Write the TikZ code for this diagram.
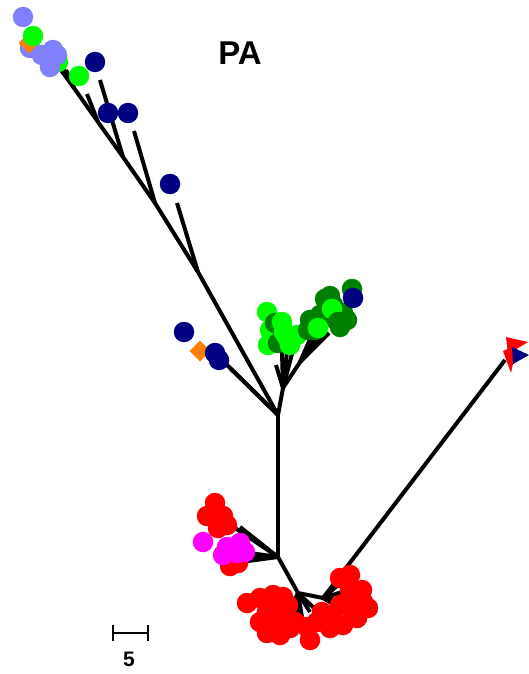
\documentclass[tikz,border=0pt]{standalone}
\usepackage{fontspec}
\usetikzlibrary{shapes.geometric}
\setmainfont{Liberation Sans}
\definecolor{lav}{HTML}{8080FF}
\definecolor{navyc}{HTML}{000080}
\definecolor{lgreen}{HTML}{00FF00}
\definecolor{dgreen}{HTML}{008000}
\definecolor{orng}{HTML}{FF8000}
\definecolor{redc}{HTML}{FF0000}
\definecolor{magc}{HTML}{FF00FF}
\begin{document}
\begin{tikzpicture}[x=1pt,y=-1pt,
  branch/.style={line width=4pt,black},
  tipdot/.style={circle,inner sep=0pt,minimum size=20.5pt,draw=none},
  tipdia/.style={diamond,inner sep=0pt,minimum size=21pt,draw=none,fill=orng},
  scalebar/.style={line width=1.6pt,black}]
\useasboundingbox (0,0) rectangle (529,674);

% ---- internal nodes of the tree ----
\coordinate (J1) at (278,415);
\coordinate (J2) at (278,557);
\coordinate (A1) at (198,272);
\coordinate (A2) at (155,203);
\coordinate (A3) at (123,157);
\coordinate (A4) at (98,122);
\coordinate (A5) at (74,88);
\coordinate (G0) at (283,388);
\coordinate (G1) at (300,362);
\coordinate (B1) at (298,593);
\coordinate (B2) at (323,598);

% ---- branch ends ----
\coordinate (a1t) at (177,203);
\coordinate (a2t) at (134,131);
\coordinate (a3t) at (100,80);
\coordinate (a4t) at (87,94);
\coordinate (t1) at (58,66);
\coordinate (t2) at (62,66);
\coordinate (t3) at (66,70);
\coordinate (m1) at (224,362);
\coordinate (m2) at (230,368);
\coordinate (g1) at (276,365);
\coordinate (g2) at (282,352);
\coordinate (g3) at (287,352);
\coordinate (g4) at (293,350);
\coordinate (h1) at (311,337);
\coordinate (h2) at (317,336);
\coordinate (h3) at (323,336);
\coordinate (h4) at (329,333);
\coordinate (p1) at (235,528);
\coordinate (p2) at (240,527);
\coordinate (p3) at (250,553);
\coordinate (p4) at (252,557);
\coordinate (p5) at (248,561);
\coordinate (b1) at (292,606);
\coordinate (b2) at (297,615);
\coordinate (b3) at (302,617);
\coordinate (b4) at (310,612);
\coordinate (b5) at (314,608);
\coordinate (c1) at (338,585);
\coordinate (c2) at (342,592);
\coordinate (c3) at (340,600);
\coordinate (c4) at (335,605);
\coordinate (R) at (505,360);

% ---- branches ----
\draw[branch] (J1) -- (J2);
\draw[branch] (J1) -- (A1) -- (A2) -- (A3) -- (A4) -- (A5);
\draw[branch] (A1) -- (a1t);
\draw[branch] (A2) -- (a2t);
\draw[branch] (A3) -- (a3t);
\draw[branch] (A4) -- (a4t);
\foreach \t in {t1,t2,t3} \draw[branch] (A5) -- (\t);
\foreach \t in {m1,m2} \draw[branch] (J1) -- (\t);
\draw[branch] (J1) -- (G0);
\foreach \t in {g1,g2,g3,g4} \draw[branch] (G0) -- (\t);
\draw[branch] (G0) -- (G1);
\foreach \t in {h1,h2,h3,h4} \draw[branch] (G1) -- (\t);
\foreach \t in {p1,p2,p3,p4,p5} \draw[branch] (J2) -- (\t);
\draw[branch] (J2) -- (B1) -- (B2);
\foreach \t in {b1,b2,b3,b4,b5} \draw[branch] (B1) -- (\t);
\foreach \t in {c1,c2,c3,c4} \draw[branch] (B2) -- (\t);
\draw[branch] (B2) -- (R);

% ---- tips: upper left group ----
\node[tipdot,fill=lav] (u1) at (23,17) {};
\node[tipdot,fill=lav] (u2) at (30,48) {};
\node[tipdia] (u3) at (29,43) {};
\node[tipdot,fill=lgreen] (u4) at (33,36) {};
\node[tipdot,fill=lav] (u5) at (42,55) {};
\node[tipdot,fill=lgreen] (u6) at (58,62) {};
\node[tipdot,fill=lav] (u7) at (50,67) {};
\node[tipdot,fill=lav] (u8) at (53,50) {};
\node[tipdot,fill=lav] (u9) at (57,55) {};
\node[tipdot,fill=navyc] (u10) at (95,62) {};
\node[tipdot,fill=lgreen] (u11) at (79,76) {};
\node[tipdot,fill=navyc] (u12) at (108,113) {};
\node[tipdot,fill=navyc] (u13) at (128,113) {};
\node[tipdot,fill=navyc] (u14) at (170,184) {};

% ---- tips: middle left ----
\node[tipdot,fill=navyc] (v1) at (184,332) {};
\node[tipdia] (v2) at (200,351) {};
\node[tipdot,fill=navyc] (v3) at (215,353) {};
\node[tipdot,fill=navyc] (v4) at (219,360) {};

% ---- tips: green group ----
\foreach \p [count=\i] in {(267,312),(268,345),(270,330)}
  \node[tipdot,fill=lgreen] (w\i) at \p {};
\foreach \p [count=\i] in {(275,323),(278,343)}
  \node[tipdot,fill=dgreen] (x\i) at \p {};
\foreach \p [count=\i] in {(282,322),(297,335),(287,337),(290,345),(284,332)}
  \node[tipdot,fill=lgreen] (y\i) at \p {};
\foreach \p [count=\i] in {(352,289),(325,299),(330,296),(333,305),(310,320),(308,330),
    (317,323),(320,315),(315,330),(336,320),(340,327),(343,313),(347,320)}
  \node[tipdot,fill=dgreen] (z\i) at \p {};
\node[tipdot,fill=lgreen] (y6) at (332,309) {};
\node[tipdot,fill=lgreen] (y7) at (318,328) {};
\node[tipdot,fill=dgreen] (z14) at (338,322) {};
\node[tipdot,fill=navyc] (z15) at (353,298) {};

% ---- tips: lower left ----
\foreach \p [count=\i] in {(215,503),(207,516),(223,516),(227,525),(218,528),(230,566),(238,563)}
  \node[tipdot,fill=redc] (q\i) at \p {};
\foreach \p [count=\i] in {(203,542),(240,543),(227,547),(223,555),(237,553),(245,552)}
  \node[tipdot,fill=magc] (k\i) at \p {};

% ---- tips: bottom group ----
\foreach \p [count=\i] in {(247,603),(260,598),(273,595),(283,597),(288,605),(267,612),
    (260,622),(273,623),(267,633),(280,635),(290,628),(295,622),(310,640),(307,627),
    (317,622),(322,612),(330,615),(343,625),(340,605),(340,578),(350,575),(350,590),
    (362,590),(363,602),(368,608),(357,618),(352,608),(330,628),(278,612),(285,618)}
  \node[tipdot,fill=redc] (r\i) at \p {};

% ---- tips: far right ----
\fill[redc] (506,337) -- (528,342) -- (508,354) -- cycle;
\fill[redc] (503,351) -- (517,345) -- (511,373) -- cycle;
\fill[navyc] (512,347) -- (529,355) -- (513,364) -- cycle;

% ---- scale bar ----
\coordinate (s1) at (113,633);
\coordinate (s2) at (148,633);
\draw[scalebar] (s1) -- (s2);
\draw[scalebar] ([yshift=-8pt]s1) -- ([yshift=8pt]s1);
\draw[scalebar] ([yshift=-8pt]s2) -- ([yshift=8pt]s2);
\node[font=\bfseries\fontsize{21}{24}\selectfont] (slabel) at (129,659) {5};

% ---- title ----
\node[font=\bfseries\fontsize{33}{36}\selectfont] (title) at (240,53) {PA};
\end{tikzpicture}
\end{document}
